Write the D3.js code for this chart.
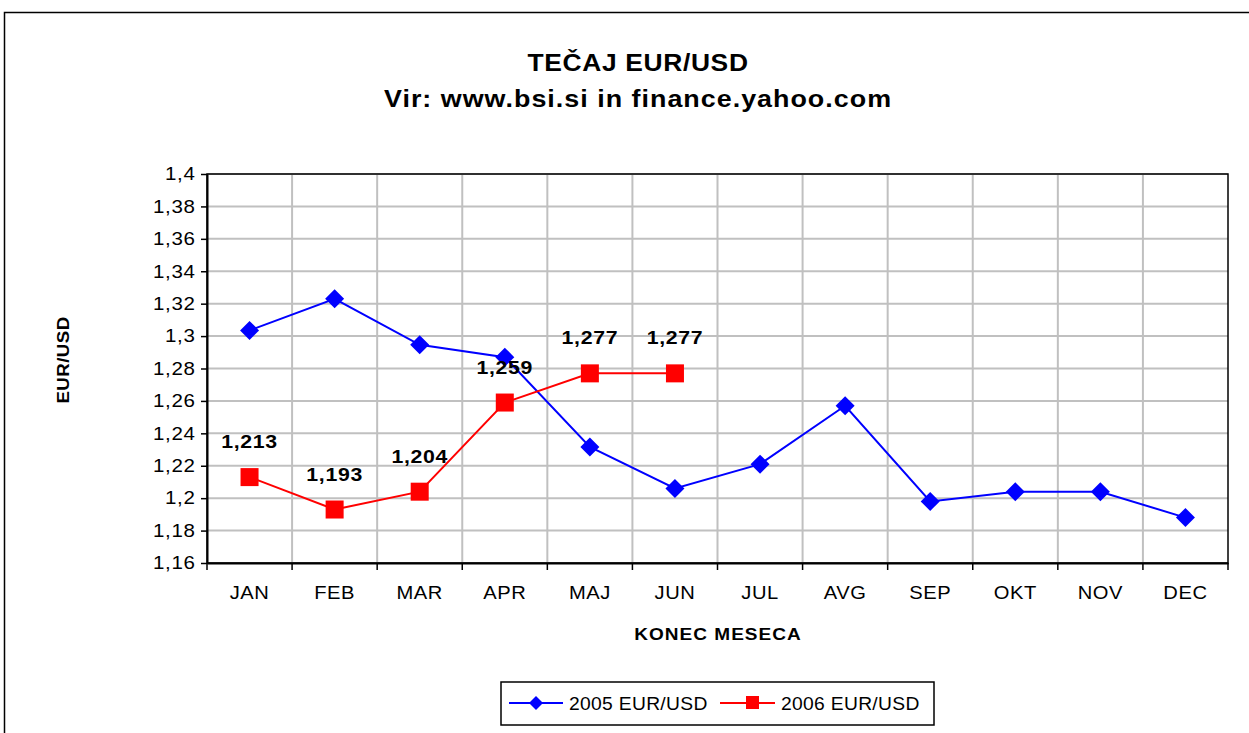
<!DOCTYPE html>
<html><head><meta charset="utf-8">
<script src="https://cdn.jsdelivr.net/npm/d3@7"></script>
<style>body{margin:0;background:#fff}svg{display:block;font-family:"Liberation Sans",Arial,sans-serif}</style>
</head><body><svg id="c" width="1249" height="733"></svg>
<script>
const months = ["JAN","FEB","MAR","APR","MAJ","JUN","JUL","AVG","SEP","OKT","NOV","DEC"];
const values2005 = [1.3035,1.323,1.2946,1.287,1.2316,1.206,1.221,1.257,1.198,1.204,1.204,1.188];
const values2006 = [1.213,1.193,1.204,1.259,1.277,1.277];
const labels2006 = ["1,213","1,193","1,204","1,259","1,277","1,277"];
const yTicks = [1.16,1.18,1.2,1.22,1.24,1.26,1.28,1.3,1.32,1.34,1.36,1.38,1.4];

const svg = d3.select("#c");
const L=207,R=1228,T=174,B=563;
svg.append("rect").attr("x",4.5).attr("y",12.5).attr("width",1260).attr("height",740).attr("fill","none").attr("stroke","#000").attr("stroke-width",1.5);

const x = d3.scaleBand().domain(months).range([L,R]).padding(0);
const y = d3.scaleLinear().domain([1.16,1.4]).range([B,T]);
const fmt = v => String(+v.toFixed(2)).replace(".",",");

// stretched text helper (glyphs in the reference are horizontally wide)
function stext(parent, px, py, str, opts) {
  const t = parent.append("text")
    .attr("transform", `translate(${px},${py}) scale(${opts.sx||1.1},1)` + (opts.rot ? ` rotate(${opts.rot})` : ""))
    .attr("text-anchor", opts.anchor || "middle")
    .attr("font-size", opts.size)
    .attr("font-weight", opts.bold ? "bold" : "normal")
    .style("letter-spacing", (opts.ls||0) + "px")
    .text(str);
  return t;
}

const g = svg.append("g");
g.selectAll(".hg").data(yTicks).join("line").attr("x1",L).attr("x2",R).attr("y1",d=>y(d)).attr("y2",d=>y(d)).attr("stroke","#c0c0c0").attr("stroke-width",2);
g.selectAll(".vg").data(months.slice(1)).join("line").attr("x1",d=>x(d)).attr("x2",d=>x(d)).attr("y1",T).attr("y2",B).attr("stroke","#c0c0c0").attr("stroke-width",2);
svg.append("rect").attr("x",L).attr("y",T).attr("width",R-L).attr("height",B-T).attr("fill","none").attr("stroke","#000").attr("stroke-width",1.5);

const ya = svg.append("g").attr("transform",`translate(${L},0)`).call(d3.axisLeft(y).tickValues(yTicks).tickFormat(fmt).tickSize(6).tickSizeOuter(0));
ya.select(".domain").attr("stroke-width",2);
ya.selectAll("text").attr("font-size",18).attr("font-family","Liberation Sans, Arial").attr("fill","#000").attr("x",-10).attr("transform","scale(1.14,1)").style("letter-spacing","0.6px");
ya.selectAll("line").attr("stroke-width",1.5);

const xa = svg.append("g").attr("transform",`translate(0,${B})`).call(d3.axisBottom(x).tickSize(0).tickSizeOuter(0));
xa.select(".domain").attr("stroke-width",2);
xa.selectAll("text").attr("font-size",18).attr("font-family","Liberation Sans, Arial").attr("fill","#000").attr("y",23).attr("dy","0.71em").attr("transform","scale(1.12,1)").style("letter-spacing","0.5px");
svg.append("g").selectAll("line").data(months).join("line").attr("x1",d=>x(d)).attr("x2",d=>x(d)).attr("y1",B).attr("y2",B+7).attr("stroke","#000").attr("stroke-width",1.5);
svg.append("line").attr("x1",R).attr("x2",R).attr("y1",B).attr("y2",B+7).attr("stroke","#000").attr("stroke-width",1.5);

const cx = d => x(d)+x.bandwidth()/2;
const line = d3.line().x((d,i)=>cx(months[i])).y(d=>y(d));

svg.append("path").datum(values2005).attr("d",line).attr("fill","none").attr("stroke","#0000ff").attr("stroke-width",2);
svg.selectAll(".d5").data(values2005).join("path").attr("transform",(d,i)=>`translate(${cx(months[i])},${y(d)})`).attr("d","M0,-9.5L9.5,0L0,9.5L-9.5,0Z").attr("fill","#0000ff");
svg.append("path").datum(values2006).attr("d",line).attr("fill","none").attr("stroke","#ff0000").attr("stroke-width",2);
svg.selectAll(".s6").data(values2006).join("rect").attr("x",(d,i)=>cx(months[i])-9).attr("y",d=>y(d)-9).attr("width",18).attr("height",18).attr("fill","#ff0000");
const lab = svg.append("g");
values2006.forEach((d,i)=>stext(lab, cx(months[i]), y(d)-29, labels2006[i], {size:19, bold:true, sx:1.12, ls:0.6}));

stext(svg, 638, 71, "TEČAJ EUR/USD", {size:24, bold:true, sx:1.1, ls:0.6});
stext(svg, 638, 107, "Vir: www.bsi.si in finance.yahoo.com", {size:24, bold:true, sx:1.12, ls:0.9});
svg.append("text").attr("transform","translate(69,360) rotate(-90) scale(1.1,1)").attr("text-anchor","middle").attr("font-size",17).attr("font-weight","bold").style("letter-spacing","0.4px").text("EUR/USD");
stext(svg, 718, 640, "KONEC MESECA", {size:17, bold:true, sx:1.12, ls:0.9});

const lg = svg.append("g");
lg.append("rect").attr("x",501).attr("y",682).attr("width",433).attr("height",43).attr("fill","#fff").attr("stroke","#000").attr("stroke-width",1.5);
lg.append("line").attr("x1",509).attr("x2",563).attr("y1",703).attr("y2",703).attr("stroke","#0000ff").attr("stroke-width",2);
lg.append("path").attr("transform","translate(536,703)").attr("d","M0,-7L7,0L0,7L-7,0Z").attr("fill","#0000ff");
stext(lg, 569, 710, "2005 EUR/USD", {size:18, sx:1.07, ls:0.3, anchor:"start"});
lg.append("line").attr("x1",720).attr("x2",775).attr("y1",703).attr("y2",703).attr("stroke","#ff0000").attr("stroke-width",2);
lg.append("rect").attr("x",746).attr("y",696).attr("width",13).attr("height",13).attr("fill","#ff0000");
stext(lg, 781, 710, "2006 EUR/USD", {size:18, sx:1.07, ls:0.3, anchor:"start"});
</script></body></html>
